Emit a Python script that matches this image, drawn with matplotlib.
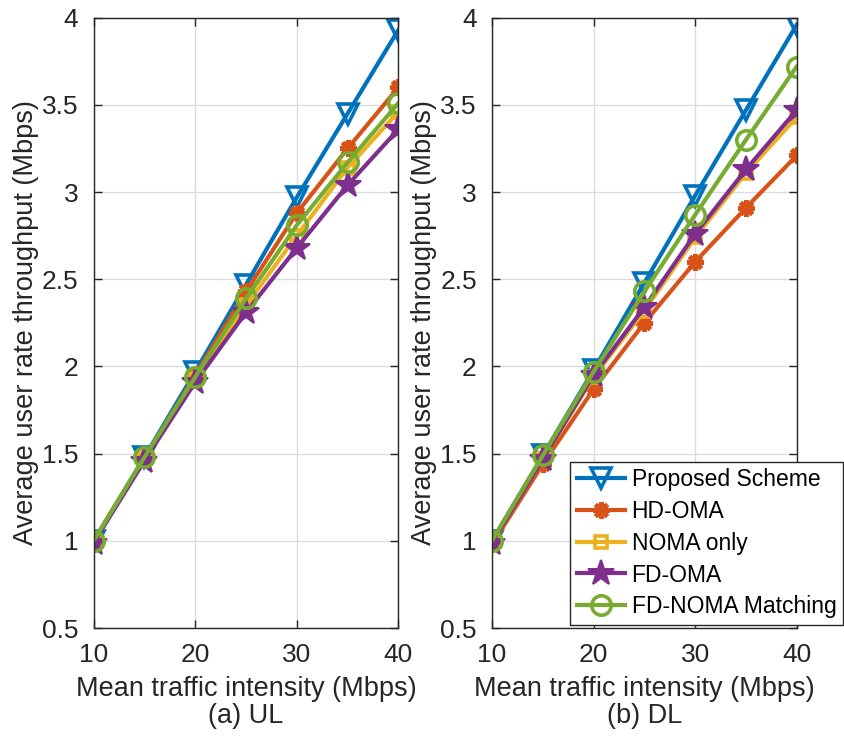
import matplotlib.pyplot as plt
import numpy as np

plt.rcParams['font.family'] = ['Liberation Sans', 'DejaVu Sans']

# mean traffic intensity (Mbps)
traffic = [10, 15, 20, 25, 30, 35, 40]

# (a) UL
ul_proposed = [1.00, 1.48, 1.97, 2.47, 2.97, 3.45, 3.93]
ul_hd_oma = [1.00, 1.47, 1.95, 2.43, 2.88, 3.25, 3.60]
ul_noma = [1.00, 1.47, 1.93, 2.35, 2.75, 3.14, 3.46]
ul_fd_oma = [0.99, 1.46, 1.91, 2.31, 2.68, 3.04, 3.36]
ul_fd_noma = [1.00, 1.48, 1.94, 2.39, 2.81, 3.17, 3.51]

# (b) DL
dl_proposed = [1.00, 1.49, 1.98, 2.48, 2.98, 3.47, 3.96]
dl_hd_oma = [0.98, 1.44, 1.87, 2.25, 2.60, 2.91, 3.21]
dl_noma = [0.99, 1.47, 1.94, 2.32, 2.74, 3.11, 3.43]
dl_fd_oma = [0.99, 1.47, 1.95, 2.34, 2.76, 3.13, 3.47]
dl_fd_noma = [1.00, 1.49, 1.97, 2.43, 2.87, 3.30, 3.72]

labels = ["Proposed Scheme", "HD-OMA", "NOMA only", "FD-OMA", "FD-NOMA Matching"]
colors = ["#0072BD", "#D95319", "#EDB120", "#7E2F8E", "#77AC30"]
markers = ["v", (8, 2, 0), "s", "*", "o"]
msizes = [14, 12, 9, 19, 14]
fills = ["none", "full", "none", "full", "none"]
mews = [2.6, 3.2, 2.6, 1.5, 2.6]

fig = plt.figure(figsize=(8.44, 7.38), dpi=100)
ax1 = fig.add_axes([0.111, 0.149, 0.361, 0.827])
ax2 = fig.add_axes([0.583, 0.149, 0.361, 0.827])

panels = [
    (ax1, [ul_proposed, ul_hd_oma, ul_noma, ul_fd_oma, ul_fd_noma], "(a) UL"),
    (ax2, [dl_proposed, dl_hd_oma, dl_noma, dl_fd_oma, dl_fd_noma], "(b) DL"),
]

for ax, series, cap in panels:
    for vals, lab, c, m, ms, fs, mw in zip(series, labels, colors, markers, msizes, fills, mews):
        ax.plot(traffic, vals, color=c, lw=3, marker=m, markersize=ms,
                fillstyle=fs, markeredgewidth=mw, markeredgecolor=c, label=lab)
    ax.set_xlim(10, 40)
    ax.set_ylim(0.5, 4)
    ax.set_xticks([10, 20, 30, 40])
    ax.set_yticks([0.5, 1, 1.5, 2, 2.5, 3, 3.5, 4])
    ax.set_yticklabels(["0.5", "1", "1.5", "2", "2.5", "3", "3.5", "4"])
    ax.grid(True, color="#dcdcdc", lw=1)
    ax.set_axisbelow(True)
    ax.tick_params(direction="in", length=6, width=1, labelsize=19,
                   top=True, right=True, pad=11, colors="#262626")
    for sp in ax.spines.values():
        sp.set_color("#262626")
        sp.set_linewidth(1)
    ax.set_xlabel("Mean traffic intensity (Mbps)\n" + cap, fontsize=19.5,
                  linespacing=1.05, color="#262626", labelpad=6)
    ax.set_ylabel("Average user rate throughput (Mbps)", fontsize=19.5,
                  color="#262626", labelpad=2)

leg = ax2.legend(loc="lower right", bbox_to_anchor=(0.999, 0.153),
                 bbox_transform=fig.transFigure, fontsize=16.5, frameon=True,
                 fancybox=False, edgecolor="#262626", borderaxespad=0,
                 handlelength=2.1, handletextpad=0.3, labelspacing=0.38,
                 borderpad=0.3, framealpha=1)
leg.get_frame().set_linewidth(1)

fig.savefig("out.png", dpi=100)
